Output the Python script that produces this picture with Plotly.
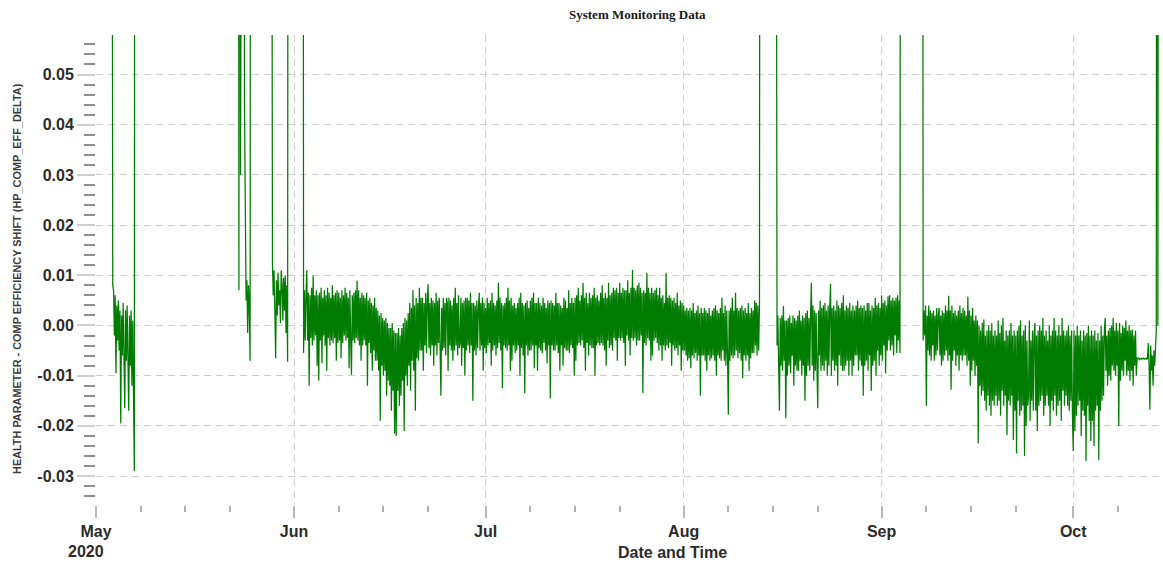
import plotly.graph_objects as go
from datetime import datetime, timedelta

# Values are stored in units of 0.001 (HP_COMP_EFF_DELTA).
MILLI = 1e-3
# Readings far above the plotted window (sensor saturation); clipped by the axis range.
OFF = 250

# ---- data segments: start time, sampling step in hours, values ----
seg_a_start, seg_a_step = "2020-05-03 09:00", 3
seg_a = [OFF, 37.5, 8, 7, -2, 6, -9.5, 4, -3, 5, -5, 3, -19.5, 2, -6, 4.5, -8, -16.5,
         3, -7, 4, -9, -17, 2, -8, 3, -12, 1, -10, -29, OFF]

seg_b_start, seg_b_step = "2020-05-23 06:00", 3
seg_b = [OFF, 7, OFF, 30, OFF, OFF, OFF, OFF, 43.5, 11, 5, 9, -1.5, 8, 4, -7, OFF]

seg_c_start, seg_c_step = "2020-05-28 09:00", 3
seg_c = [OFF, 30.5, 12.5, 6, 11, 3, -6.5, 9, 2, 10.5, 4, 7, 0.5, 11, 8, 1, 9.5, 3, 10,
         -1.5, 8, -7.2, OFF]

seg_d_start, seg_d_step = "2020-06-02 09:00", 3
seg_d = [
    OFF, -5.5, 7, -3, 6,
    11, -3, 6.5, -12, 6, -2.5, 7.5, -4,
    9.9, -3, 6, -2, 7, -8, 6, -11,
    6.5, -3, 7.5, -7.5, 5.5, -2, 7, -4,
    6, -9, 7.5, -2.5, 6.5, -4, 5.5, -3,
    8, -3.5, 6, -2.5, 6.5, -7, 7, -3.5,
    6.5, -3, 5.5, -6.5, 7, -3.5, 6, -2,
    7.5, -3, 6.5, -2.5, 5.5, -8.5, 7, -3,
    -9.8, 6, -3, 6.5, -3.5, 7, -2.5, 8.9,
    -3, 7, -4, 5.5, -7, 6.5, -4, 6,
    -3, 5.5, -4, 6.5, -12, 5, -3.5, 5.5,
    -5.5, 4.5, -9, 4, -5, 5.5, -7, 3.5,
    -7, 3, -9, 2, -19, 2.5, -8, 1.5,
    -10, 1, -9, 1.5, -14, 0.5, -11, -0.5,
    -12, -0.5, -17, 0.5, -13, -1, -21.5, -1.5,
    -22, -1.5, -13, -0.5, -16, -2, -14, -0.5,
    -11, 0.5, -21, 1.5, -10, 1, -12, 2.5,
    -8, 4.5, -13, 3.5, -7, 7, -9, 4,
    -17, 5.5, -6.5, 4.5, -7, 7.5, -5, 5.5,
    -5, 5.5, -9, 4.5, -4, 6.5, -5.5, 5,
    8.2, -4.5, 4.5, -6, 5.5, -4, 5, -8,
    4.5, -4, 6.5, -6, 5, -3.5, 5.5, -5,
    -14, 3.5, -5, 5.5, -4.5, 4.5, -6, 5.5,
    4.5, -9, 5.5, -4, 5, -5, 4, -7,
    5.5, -5, 7.5, -4, 4.5, -6, 6, -4.5,
    -3.5, 5.5, -8, 4.5, -4.5, 5, -10, 5.5,
    -5, 5.5, -4, 5, -5.5, 6.5, -4, 4.5,
    -15, 4.5, -5, 4, -6, 5, -4.5, 3.5,
    6.5, -5, 4.5, -4, 5.5, -9, 4.5, -4.5,
    3.5, -5.5, 5.5, -4, 4.5, -3.5, 5, -8,
    6.5, -5, 4.5, -4, 4, -6, 5, -4.5,
    8.5, -3.5, 5.5, -5, 4.5, -12.5, 4, -4,
    4.5, -4.5, 5.5, -5, 7.5, -4, 5, -9,
    5.5, -7, 4, -4, 4.5, -5.5, 3.5, -5,
    4.5, -4, 5.5, -10, 6.5, -4.5, 4.5, -6,
    4, -13.5, 4.5, -4, 5, -6, 3.5, -5,
    5, -5, 5.5, -4, 6.5, -8.5, 4.5, -4,
    4.5, -9, 5.5, -4.5, 4.5, -5, 4, -5.5,
    5.5, -3.5, 4.5, -5, 3.5, -7.5, 5, -4,
    4.5, -14.5, 5, -4, 4.5, -5, 4, -5,
    6.5, -4, 4.5, -5.5, 4.5, -9, 4, -4,
    3.5, -8, 5.5, -4.5, 5, -5, 3.5, -5,
    7, -5.5, 4.5, -4, 5.5, -4.5, 4.5, -10,
    5.5, -7, 6, -4, 7.5, -3.5, 5, -4,
    6, -3, 8.5, -4.5, 5.5, -9, 6.5, -3.5,
    4.5, -6, 6.5, -4, 5.5, -4.5, 6, -4.5,
    7.5, -10, 5.5, -4, 6, -3.5, 5, -4,
    6.5, -3.5, 8, -4, 5.5, -5, 6.5, -8,
    5.5, -3, 8.5, -4.5, 6, -4, 6.5, -5,
    7.5, -2.5, 7, -3, 7.5, -7, 6.5, -2.5,
    8.5, -3, 6.5, -2.5, 7.5, -3.5, 7, -8,
    7, -2, 9, -3, 6.5, -6, 7.5, -2.5,
    11.1, -3, 7.5, -2.5, 7, -4, 8, -3,
    8.5, -3, 7.5, -2, 6.5, -13.5, 7, -3.5,
    6.5, -4, 10.5, -2.5, 7.5, -3, 6.5, -7,
    7.5, -6, 6.5, -3, 7, -2.5, 7.5, -3.5,
    6, -5, 7.5, -4, 5.5, -7, 6, -4,
    4.5, -5, 10.5, -4, 5.5, -4.5, 6, -3.5,
    5.5, -8, 5, -4, 5.5, -5, 4.5, -4.5,
    6.5, -6, 4, -4, 5, -9, 4.5, -5,
    4, -5, 3, -6, 3.5, -7, 3, -6.5,
    3.5, -8.5, 3, -6, 4.5, -6.5, 2.5, -5.5,
    3, -7, 4, -6, 2.5, -14, 3.5, -6,
    2.5, -6, 3.5, -7, 3, -9, 2.5, -6,
    3.5, -7, 2, -6.5, 3, -6, 3.5, -7,
    4, -10, 3, -6, 2.5, -6.5, 3.5, -7,
    5.5, -5, 2.5, -7, 4, -8, 3, -6,
    -17.8, 3, -7, 3.5, -6, 5.5, -6.5, 3,
    -6, 6.5, -5, 3.5, -6.5, 3, -5.5, 3.5,
    -7, 4, -10.5, 3, -6, 3.5, -7, 2.5,
    -6, 4.5, -9, 2.5, -6.5, 3.5, -5.5, 3,
    -5.5, 5, -4, 4.5, -6, 4, -5, 3.9,
    OFF,
]

seg_e_start, seg_e_step = "2020-08-15 09:00", 3
seg_e = [
    OFF, 12.4, -4, 2, -6,
    -17, 1.5, -8, 2, -9, 3.9, -7, 1,
    -18.5, 1, -10, 1.5, -8, 2, -9.5, 0.5,
    -6, 2, -12, 1.5, -8, 1, -9, 2,
    -9, 3, -7, 1, -10, 2, -8, 1.5,
    -15, 2.5, -10, 3, -8, 1.5, -9, 2,
    8.5, -8, 4, -11, 3, -9, 2.5, -8,
    -16.5, 3, -6, 5, -9, 3.5, -8, 4,
    -9, 4.5, -7, 3, -10, 4, -8, 3.5,
    8.3, -10, 3.5, -7, 4, -9, 3, -8,
    5, -12, 4, -6, 3.5, -8, 4.5, -9,
    6, -9, 3, -8, 4, -7, 3.5, -10,
    4.5, -7, 3, -10, 4, -8, 3, -6,
    4, -6, 5, -9, 3.5, -7, 4, -8,
    3.5, -14, 4, -8, 3, -7, 4.5, -9,
    4.5, -6, 3, -13, 4, -8, 3.5, -7,
    5.5, -10, 4, -5, 4.5, -8, 3.5, -6,
    6, -7, 4.5, -4, 5, -9.5, 4, -5,
    5.8, -3, 6, -5, 5, -4, 5.5, -6,
    5, -2, 5.5, -5.5, 6, -3, 5, -5.5,
    OFF,
]

seg_f_start, seg_f_step = "2020-09-07 09:00", 3
seg_f = [
    OFF, -3, 3, -2, 4,
    -16, 2, -5, 4, -6, 3, -7, 2.5,
    -4, 3, -7, 2, -6, 3.5, -5, 2,
    3.5, -6, 2, -8, 3, -7, 2.5, -6,
    4, -5, 3, -7, 5.9, -6, 3, -12.8,
    4, -7, 2.5, -5, 3, -8, 2, -6,
    3, -9, 4, -6, 2.5, -7, 3.5, -6,
    3, -6, 2, -8, 5.7, -7, 3, -12,
    2, -9, 3.5, -7, 1, -10, 2, -8,
    1, -23.5, 0, -12, -1, -14, 0.5, -13,
    1.2, -15, -2, -17, -1, -14, 0, -16,
    -1, -18, 0.5, -15, -2, -16, -1, -14,
    -2, -16, 1, -15, -1.5, -18, 0, -13,
    1.5, -16, -3, -14, -1, -21.8, -2, -15,
    -1, -16, 0.5, -14, -2, -22.8, -1, -17,
    -2, -25.5, -1, -15, 0, -18, 1, -17,
    -2, -16, -1, -26, 0, -20, -3, -16,
    -14, 1, -19, -3, -15, -1, -17, -2,
    0.5, -17, -2, -21, -1, -16, 0, -15,
    -1, -14, 1.5, -18, -2, -16, -1, -14,
    -3, -16, 0, -20, -2, -15, -1, -17,
    1.5, -14, -1, -18, -2, -16, 0, -15,
    -2, -19, 1.5, -13, -1, -16, -2, -14,
    -1, -16, 0, -17, -2, -15, -1, -18,
    -25, -1, -21, -2, -18, 0, -16, -2,
    -15, -1, -22, -3, -17, -1, -18, -2,
    -27, -1.5, -16, 0, -19, -2, -23, -1,
    -19, -2, -24, -1, -17, -3, -16, -1.5,
    -26.8, -3, -17, 0, -15, -2, -14, -1,
    1.5, -9, -2, -12, -1, -10, -0.5, -11,
    0, -8, 1.5, -9, -1, -10, 0.5, -8,
    -1, -20, 0.5, -11, -1.5, -9, 0, -10,
    -0.5, -7, 1, -10, -1, -9, 0, -11,
    -1, -9, -0.8, -12, -2, -8, -1, -10,
    -6.5, -6.6, -6.5, -6.8, -6.6, -6.5, -6.7, -6.5,
    -6.5, -6.7, -6.6, -6.5, -6.7, -6.6, -3.5, -8,
    -16.8, -4, -9, -6, -12, -5, -8, -2,
    -1, OFF, 0, OFF,
]

segments = [
    (seg_a_start, seg_a_step, seg_a),
    (seg_b_start, seg_b_step, seg_b),
    (seg_c_start, seg_c_step, seg_c),
    (seg_d_start, seg_d_step, seg_d),
    (seg_e_start, seg_e_step, seg_e),
    (seg_f_start, seg_f_step, seg_f),
]

# ---- axis labelling ----
y_tick_vals = [-0.03, -0.02, -0.01, 0.0, 0.01, 0.02, 0.03, 0.04, 0.05]
y_tick_text = ["-0.03", "-0.02", "-0.01", "0.00", "0.01", "0.02", "0.03", "0.04", "0.05"]
x_tick_vals = ["2020-05-01", "2020-06-01", "2020-07-01", "2020-08-01", "2020-09-01", "2020-10-01"]
x_tick_text = ["May", "Jun", "Jul", "Aug", "Sep", "Oct"]
x_minor_days = [8, 15, 22]
year_label = "2020"

chart_title = "System Monitoring Data"
x_title = "Date and Time"
y_title = "HEALTH PARAMETER - COMP EFFICIENCY SHIFT (HP_COMP_EFF_DELTA)"

# ---- assemble the series ----
xs, ys = [], []
for start, step_h, vals in segments:
    t0 = datetime.fromisoformat(start)
    for i, v in enumerate(vals):
        xs.append(t0 + timedelta(hours=step_h * i))
        ys.append(v * MILLI)
    xs.append(None)
    ys.append(None)

fig = go.Figure()
fig.add_trace(go.Scatter(
    x=xs, y=ys, mode="lines", connectgaps=False,
    line=dict(color="#007c00", width=1.25),
    hoverinfo="skip",
))

grid_color = "#cdcdcd"
grid_dash = "7px,5px"
sans = "Liberation Sans, Arial, sans-serif"
tick_font = dict(family=sans, size=16, color="#2b2b2b", weight="bold")

minor_x = [v[:8] + f"{d:02d}" for v in x_tick_vals for d in x_minor_days]

fig.update_xaxes(
    type="date",
    range=["2020-05-01", "2020-10-14 14:00"],
    tickmode="array", tickvals=x_tick_vals, ticktext=x_tick_text,
    ticks="outside", ticklen=12, tickwidth=1.5, tickcolor="#b8b8b8",
    showgrid=True, gridcolor=grid_color, griddash=grid_dash, gridwidth=1.3,
    showline=False, zeroline=False,
    tickfont=tick_font,
    minor=dict(tickmode="array", tickvals=minor_x, ticks="outside", ticklen=6,
               tickwidth=1.5, tickcolor="#b0b0b0", showgrid=False),
)
fig.update_yaxes(
    range=[-0.03576, 0.05787],
    tickmode="array", tickvals=y_tick_vals, ticktext=y_tick_text,
    ticks="outside", ticklen=18, tickwidth=1.5, tickcolor="#cfcfcf",
    showgrid=True, gridcolor=grid_color, griddash=grid_dash, gridwidth=1.3,
    showline=False, zeroline=False,
    tickfont=tick_font,
    minor=dict(tickmode="linear", tick0=0, dtick=0.002, ticks="outside", ticklen=11,
               tickwidth=1.5, tickcolor="#8c8c8c", showgrid=False),
)

fig.update_layout(
    width=1163, height=564,
    margin=dict(l=96, r=3, t=35, b=59),
    plot_bgcolor="white", paper_bgcolor="white",
    showlegend=False,
    annotations=[
        dict(text=chart_title, xref="paper", yref="paper", x=0.509, y=1.0426,
             xanchor="center", yanchor="middle", showarrow=False,
             font=dict(family="Liberation Serif, Times New Roman, serif", size=13,
                       color="#1a1a1a", weight="bold")),
        dict(text=year_label, xref="paper", yref="paper", x=-0.0094, y=-0.0979,
             xanchor="center", yanchor="middle", showarrow=False, font=tick_font),
        dict(text=x_title, xref="paper", yref="paper", x=0.542, y=-0.1,
             xanchor="center", yanchor="middle", showarrow=False, font=tick_font),
        dict(text=y_title, xref="paper", yref="paper", x=-0.0742, y=0.481,
             xanchor="center", yanchor="middle", textangle=-90, showarrow=False,
             font=dict(family=sans, size=10.9, color="#3a3a3a", weight="bold")),
    ],
)

fig.write_html("out.html")
